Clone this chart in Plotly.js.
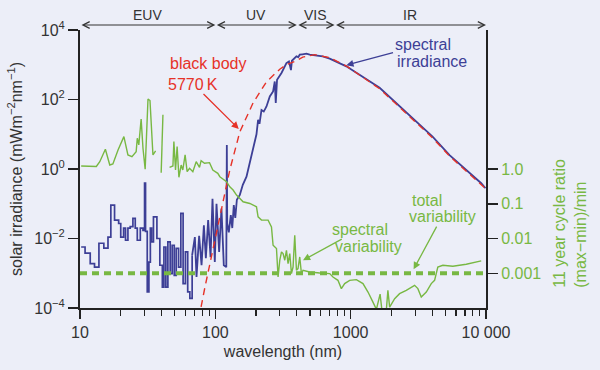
<!DOCTYPE html>
<html>
<head>
<meta charset="utf-8">
<script src="https://cdn.plot.ly/plotly-3.0.1.min.js"></script>
<style>
html, body { margin: 0; padding: 0; background: #eceef8; }
#chart { width: 600px; height: 370px; }
</style>
</head>
<body>
<div id="chart"></div>
<script>
// ---- spectral irradiance, EUV part (stepped histogram), nm and mW m^-2 nm^-1
const euvWavelength = [10.2, 10.9, 11.9, 12.8, 13.8, 15.0, 16.1, 16.9, 18.0, 19.3,
  20.0, 21.0, 21.7, 22.6, 23.5, 24.6, 25.6, 26.5, 27.9, 29.2,
  30.0, 30.5, 31.4, 32.3, 33.1, 33.8, 34.9, 37.0, 38.9, 40.6,
  41.7, 43.1, 44.6, 46.4, 48.0, 49.7, 51.4, 53.5, 55.6, 57.8,
  60.1, 62.5, 64.8, 67.4];
const euvIrradiance = [0.0057, 0.0038, 0.0019, 0.0015, 0.0073, 0.0053, 0.011, 0.091, 0.034, 0.027,
  0.011, 0.020, 0.0089, 0.020, 0.022, 0.038, 0.020, 0.0089, 0.020, 0.017,
  0.39, 0.016, 0.00029, 0.0021, 0.020, 0.0080, 0.042, 0.010, 0.0017, 0.00040,
  0.0057, 0.00040, 0.0080, 0.00098, 0.0064, 0.00087, 0.0052, 0.0015, 0.053, 0.00050,
  0.0041, 0.00029, 0.00019, 0.0033];

// ---- spectral irradiance, UV to IR
const uvirWavelength = [67.4, 70.6, 72.6, 75.9, 79.1, 82.3, 85.1, 88.5, 92.2, 95.3,
  99.1, 102, 106.7, 111, 115.5, 120.5, 121.6, 122.4, 125.8, 130.1,
  133.4, 136.9, 140.4, 144.2, 151.7, 159.6, 169.9, 174.6, 179.8, 190.1,
  201.4, 207, 212, 219.3, 228, 238.8, 252.6, 267.1, 274.9, 279.6,
  285.8, 308.2, 335.3, 350, 362, 368, 375.2, 385, 397.4, 410,
  420.4, 440, 471, 498, 540, 621, 700, 929, 1637, 2299,
  4028, 5378, 7145, 9218, 9915];
const uvirIrradiance = [0.0033, 0.011, 0.00078, 0.012, 0.0017, 0.024, 0.0027, 0.034, 0.0029, 0.14,
  0.0021, 0.10, 0.0041, 0.073, 0.0017, 0.0015, 4.9, 0.027, 0.015, 0.047,
  0.020, 0.091, 0.039, 0.13, 0.18, 0.35, 0.6, 0.94, 1.6, 4.2,
  10, 26, 20, 50, 45, 63, 122, 170, 330, 80,
  370, 580, 1120, 1250, 700, 1300, 1400, 1500, 1740, 1650,
  1950, 2000, 2080, 1950, 1900, 1740, 1500, 900, 218, 63,
  8.6, 2.5, 0.94, 0.39, 0.28];

// ---- black body 5770 K
const blackbodyWavelength = [74.3, 78.2, 83.7, 102, 127.9, 151.7, 190.1, 238.8, 299.4, 335,
  397, 442.5, 542, 700, 934, 1637, 2299, 4028, 5378, 7178, 10000];
const blackbodyIrradiance = [5.0e-5, 1.0e-4, 3.9e-4, 0.0142, 0.94, 11.7, 80, 324, 744, 1000,
  1309, 1652, 1950, 1600, 910, 204, 59.6, 7.85, 2.37, 0.876, 0.265];

// ---- 11 year cycle ratio (max-min)/min, spectral variability
const variabilityWavelength = [10.2, 13.2, 14.0, 15.4, 16.6, 17.5, 19.1, 21.1, 22.6, 24.2,
  26.0, 26.5, 27.2, 28.3, 29.2, 30.3, 31.8, 32.9, 34.6, 36.2,
  38, 39.8, 41.0, 43, 45.9, 48.6, 49.4, 50.8, 52.2, 53.8,
  55.9, 57.5, 59.8, 61.9, 64.5, 68.2, 72.2, 76.4, 78.5, 83.2,
  90.6, 95.8, 104.3, 108, 121, 127.9, 135.3, 143.4, 160.4, 179.8,
  201.4, 207, 219.3, 245.4, 259.9, 267.1, 283, 290.8, 299.4, 308.2,
  316.6, 325.9, 335.3, 344.6, 354.8, 365.1, 375.2, 386.2, 397.4, 408.3,
  420.4, 432.8, 444.6, 497.9, 590.6, 699.8, 740, 805.5, 853.5, 903,
  983, 1102, 1233, 1343, 1461, 1549, 1650, 1700, 1834, 1884,
  1941, 2113, 2299, 2576, 2967, 3138, 3324, 3621, 3940, 4169,
  4406, 4798, 5689, 7145, 9218];
const variabilityRatio = [1.22, 1.18, 1.62, 3.70, 1.30, 1.39, 3.53, 8.55, 2.54, 2.26,
  3.16, 7.69, 4.93, 27.2, 3.96, 0.98, 103, 93.6, 2.54, 3.31,
  null, 0.782, 36.2, null, 1.12, 1.22, 6.14, 0.936, 4.40, 0.576,
  1.30, 0.936, 2.54, 0.836, 1.05, 0.836, 1.62, 1.12, 1.74, 1.46,
  1.52, 0.936, 0.751, 0.60, 0.43, 0.308, 0.248, 0.178, 0.114, 0.102,
  0.0817, 0.042, 0.0338, 0.0338, 0.0216, 0.00641, 0.00515, 0.00078, 0.00237, 0.0041,
  0.00369, 0.00237, 0.00459, 0.0019, 0.00369, 0.000977, 0.00151, 0.01245, 0.00122, 0.00136,
  0.00294, 0.000977, 0.00122, 0.00109, 0.00102, 0.000977, 0.00078, 0.000626, 0.000361, 0.000503,
  0.000626, 0.000656, 0.000503, 0.000288, 0.000148, 0.0000912, 0.00025, 0.00009, 0.0000855, 0.000322,
  0.000106, 0.000185, 0.000259, 0.000322, 0.000449, 0.000361, 0.000206, 0.000288, 0.000503, 0.000626,
  0.00151, 0.0017, 0.00159, 0.00181, 0.00226];

// ---- total variability level
const totalVariabilityWavelength = [10, 10000];
const totalVariabilityRatio = [0.001, 0.001];

// ---- axes and regions
const xTickVals = [10, 100, 1000, 10000];
const xTickText = ['10', '100', '1000', '10 000'];
const yTickVals = [1e-4, 1e-2, 1, 1e2, 1e4];
const yTickText = ['10<sup>−4</sup>', '10<sup>−2</sup>', '10<sup>0</sup>', '10<sup>2</sup>', '10<sup>4</sup>'];
const ratioTickVals = [0.001, 0.01, 0.1, 1];
const ratioTickText = ['0.001', '0.01', '0.1', '1.0'];
const regionEdges = [10, 100, 400, 760, 10000];
const regionNames = ['EUV', 'UV', 'VIS', 'IR'];

const minorVals = [];
[10, 100, 1000].forEach(d => { for (let k = 2; k <= 9; k++) minorVals.push(d * k); });

const BLUE = '#3d3f96', GREEN = '#78b843', RED = '#e63228', INK = '#333333', AX = '#222222';
const FONT = 'Liberation Sans, Arial, sans-serif';

const traces = [
  { x: totalVariabilityWavelength, y: totalVariabilityRatio, yaxis: 'y2', mode: 'lines',
    line: { color: GREEN, width: 4, dash: '7px,5px' }, hoverinfo: 'skip' },
  { x: variabilityWavelength, y: variabilityRatio, yaxis: 'y2', mode: 'lines', connectgaps: false,
    line: { color: GREEN, width: 1.4 } },
  { x: euvWavelength, y: euvIrradiance, mode: 'lines', line: { color: BLUE, width: 1.7, shape: 'hv' } },
  { x: uvirWavelength, y: uvirIrradiance, mode: 'lines', line: { color: BLUE, width: 1.8 } },
  { x: blackbodyWavelength, y: blackbodyIrradiance, mode: 'lines',
    line: { color: RED, width: 1.4, dash: '7px,5px' } }
];

const annotations = [];
const lg = Math.log10;
regionNames.forEach((name, i) => {
  const a = lg(regionEdges[i]), b = lg(regionEdges[i + 1]);
  annotations.push({ xref: 'x', yref: 'paper', x: b, y: 1.018, axref: 'x', ayref: 'pixel', ax: a, ay: 0,
    text: '', showarrow: true, arrowside: 'end+start', arrowhead: 5, startarrowhead: 5,
    arrowsize: 1.2, startarrowsize: 1.2, arrowwidth: 1.1, arrowcolor: INK });
  annotations.push({ xref: 'x', yref: 'paper', x: (a + b) / 2, y: 1.054, xanchor: 'center', yanchor: 'middle',
    text: name, showarrow: false, font: { family: FONT, size: 14, color: INK } });
});
// plain label line, left-anchored in paper coordinates
function label(txt, xp, yp, color) {
  annotations.push({ xref: 'paper', yref: 'paper', x: xp, y: yp, xanchor: 'left', yanchor: 'middle',
    text: txt, showarrow: false, font: { family: FONT, size: 16, color: color } });
}
// label line carrying an arrow: text centred at (cx, cy) (log axis units), arrow tip at (x, y)
function pointerLabel(txt, x, y, cx, cy, color) {
  annotations.push({ xref: 'x', yref: 'y', axref: 'x', ayref: 'y', x: x, y: y, ax: cx, ay: cy,
    text: txt, showarrow: true, arrowhead: 2, arrowsize: 1.1, arrowwidth: 1.3, arrowcolor: color,
    standoff: 0, font: { family: FONT, size: 16, color: color } });
}
label('black body', 0.2165, 0.879, RED);
pointerLabel('5770\u2009K', 2.173, 1.154, 1.838, 2.446, RED);
pointerLabel('spectral', 2.968, 2.987, 3.531, 3.579, BLUE);
label('irradiance', 0.775, 0.888, BLUE);
pointerLabel('spectral', 2.648, -2.626, 3.070, -1.732, GREEN);
label('variability', 0.6224, 0.2216, GREEN);
label('total', 0.8118, 0.3874, GREEN);
pointerLabel('variability', 3.465, -2.886, 3.675, -1.371, GREEN);
annotations.push({ xref: 'paper', yref: 'paper', x: 1.2079, y: 0.3045, xanchor: 'center', yanchor: 'middle',
  textangle: -90, align: 'left', showarrow: false,
  text: '11 year cycle ratio<br>(max−min)/min', font: { family: FONT, size: 16, color: GREEN } });

const layout = {
  width: 600, height: 370,
  margin: { l: 80, r: 114, t: 30, b: 62 },
  paper_bgcolor: '#eceef8', plot_bgcolor: '#eceef8',
  showlegend: false,
  font: { family: FONT, size: 16, color: INK },
  xaxis: {
    type: 'log', range: [1, 4], tickmode: 'array', tickvals: xTickVals, ticktext: xTickText,
    ticks: 'outside', ticklen: 9, tickwidth: 1.5, tickcolor: AX,
    showline: true, linecolor: AX, linewidth: 2, showgrid: false, zeroline: false,
    tickfont: { family: FONT, size: 16, color: INK },
    minor: { tickmode: 'array', tickvals: minorVals, ticks: 'outside', ticklen: 6, tickwidth: 1.2, tickcolor: AX, showgrid: false },
    title: { text: 'wavelength (nm)', font: { family: FONT, size: 16, color: INK }, standoff: 6 }
  },
  yaxis: {
    type: 'log', range: [-4, 4], tickmode: 'array', tickvals: yTickVals, ticktext: yTickText,
    ticks: 'outside', ticklen: 10, tickwidth: 1.5, tickcolor: AX,
    showline: true, linecolor: AX, linewidth: 2, showgrid: false, zeroline: false,
    tickfont: { family: FONT, size: 16, color: INK },
    title: { text: 'solar irradiance (mWm<sup>−2</sup>nm<sup>−1</sup>)', font: { family: FONT, size: 16, color: INK }, standoff: 8 }
  },
  yaxis2: {
    type: 'log', range: [-4, 4], overlaying: 'y', side: 'right', tickmode: 'array',
    tickvals: ratioTickVals, ticktext: ratioTickText,
    ticks: 'outside', ticklen: 10, tickwidth: 1.5, tickcolor: AX,
    showline: true, linecolor: AX, linewidth: 2, showgrid: false, zeroline: false,
    tickfont: { family: FONT, size: 16, color: GREEN }
  },
  annotations: annotations
};

Plotly.newPlot('chart', traces, layout, { staticPlot: true, displayModeBar: false });
</script>
</body>
</html>
